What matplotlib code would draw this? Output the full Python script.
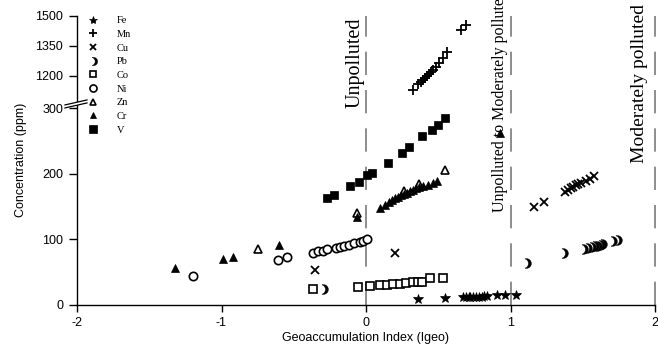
import numpy as np
import matplotlib
matplotlib.use("Agg")
import matplotlib.pyplot as plt
import matplotlib.path as mpath
import matplotlib.transforms as mtransforms
from matplotlib.patches import Polygon

# ---------------- data ----------------
Fe_x = [0.36, 0.55, 0.67, 0.69, 0.71, 0.72, 0.74, 0.76, 0.78, 0.80, 0.82, 0.84, 0.91, 0.96, 1.04]
Fe_y = [9, 10, 12, 12, 12, 12, 12, 12, 12, 12, 13, 13, 14, 14, 15]

Mn_x = [0.325, 0.36, 0.38, 0.395, 0.41, 0.42, 0.436, 0.45, 0.464, 0.484, 0.505, 0.53, 0.56, 0.66, 0.69]
Mn_y = [1130, 1160, 1170, 1180, 1190, 1200, 1210, 1220, 1230, 1245, 1265, 1290, 1320, 1430, 1455]

Cu_x = [-0.35, 0.20, 1.16, 1.23, 1.38, 1.40, 1.42, 1.43, 1.45, 1.47, 1.49, 1.52, 1.55, 1.58]
Cu_y = [52, 78, 149, 157, 172, 175, 178, 180, 183, 184, 186, 189, 192, 196]

Pb_x = [-0.30, 1.11, 1.36, 1.50, 1.53, 1.56, 1.58, 1.60, 1.62, 1.63, 1.70, 1.74]
Pb_y = [23, 64, 78, 85, 87, 88, 89, 90, 91, 92, 97, 99]

Co_x = [-0.37, -0.055, 0.03, 0.10, 0.145, 0.19, 0.235, 0.28, 0.325, 0.36, 0.39, 0.44, 0.53]
Co_y = [23, 27, 29, 30, 30, 32, 32, 33, 34, 34, 35, 40, 41]

Ni_x = [-1.20, -0.61, -0.55, -0.37, -0.33, -0.30, -0.27, -0.21, -0.18, -0.15, -0.12, -0.08, -0.04, -0.02, 0.01]
Ni_y = [44, 68, 72, 79, 81, 82, 84, 87, 88, 90, 91, 94, 96, 97, 100]

Zn_x = [-0.75, -0.06, 0.26, 0.37, 0.55]
Zn_y = [85, 139, 174, 184, 206]

Cr_x = [-1.32, -0.99, -0.92, -0.60, -0.06, 0.097, 0.131, 0.159, 0.18, 0.20, 0.22, 0.24, 0.26,
        0.285, 0.305, 0.325, 0.346, 0.367, 0.394, 0.43, 0.464, 0.49, 0.93]
Cr_y = [55, 70, 73, 91, 134, 147, 152, 156, 160, 163, 164, 167, 169,
        170, 173, 175, 178, 179, 181, 182, 185, 189, 262]

V_x = [-0.27, -0.22, -0.11, -0.05, 0.01, 0.04, 0.15, 0.25, 0.30, 0.39, 0.46, 0.50, 0.55]
V_y = [163, 167, 181, 187, 198, 201, 216, 231, 240, 257, 266, 274, 285]

x_ticks = [-2, -1, 0, 1, 2]
y_ticks = [0, 100, 200, 300, 1200, 1350, 1500]
zone_x = [0, 1, 2]
zone_labels = ["Unpolluted", "Unpolluted to Moderately polluted", "Moderately polluted"]

# ---------------- broken y scale ----------------
K = 0.3053
LOW_TOP, HIGH_BOT = 300.0, 1040.0
EPS = 1e-4
GAP = (HIGH_BOT - LOW_TOP) * EPS


def fwd(y):
    y = np.asarray(y, dtype=float)
    return np.where(y <= LOW_TOP, y,
                    np.where(y < HIGH_BOT, LOW_TOP + (y - LOW_TOP) * EPS,
                             LOW_TOP + GAP + (y - HIGH_BOT) * K))


def inv(f):
    f = np.asarray(f, dtype=float)
    return np.where(f <= LOW_TOP, f,
                    np.where(f < LOW_TOP + GAP, LOW_TOP + (f - LOW_TOP) / EPS,
                             HIGH_BOT + (f - LOW_TOP - GAP) / K))


# crescent marker for Pb
def crescent(shift=0.6, n=30):
    xi = -shift / 2.0
    angA = np.linspace(-np.arccos(xi), np.arccos(xi), n)
    outer = np.column_stack([np.cos(angA), np.sin(angA)])
    b = np.arccos(xi + shift)
    angB = np.linspace(b, -b, n)
    inner = np.column_stack([np.cos(angB) - shift, np.sin(angB)])
    verts = np.vstack([outer, inner, outer[:1]])
    codes = [mpath.Path.MOVETO] + [mpath.Path.LINETO] * (len(verts) - 2) + [mpath.Path.CLOSEPOLY]
    return mpath.Path(verts, codes)


PB_MARK = crescent()

fig = plt.figure(figsize=(6.58, 3.47), dpi=100)
ax = fig.add_axes([77 / 658, 42.5 / 347, 578 / 658, 288.5 / 347])
ax.set_yscale('function', functions=(fwd, inv))

black = 'black'
series = [
    ("Fe", Fe_x, Fe_y, dict(marker='*', ms=7, mfc=black, mec=black, mew=0.5)),
    ("Mn", Mn_x, Mn_y, dict(marker='+', ms=6.5, mec=black, mew=1.3)),
    ("Cu", Cu_x, Cu_y, dict(marker='x', ms=5.5, mec=black, mew=1.3)),
    ("Pb", Pb_x, Pb_y, dict(marker=PB_MARK, ms=7, mfc=black, mec=black, mew=0.3)),
    ("Co", Co_x, Co_y, dict(marker='s', ms=5.5, mfc='white', mec=black, mew=1.2)),
    ("Ni", Ni_x, Ni_y, dict(marker='o', ms=6, mfc='white', mec=black, mew=1.2)),
    ("Zn", Zn_x, Zn_y, dict(marker='^', ms=5.5, mfc='white', mec=black, mew=1.2)),
    ("Cr", Cr_x, Cr_y, dict(marker='^', ms=5.5, mfc=black, mec=black, mew=0.5)),
    ("V", V_x, V_y, dict(marker='s', ms=6, mfc=black, mec=black, mew=0.5)),
]
for name, xs, ys, kw in series:
    ax.plot(xs, ys, ls='none', label=name, zorder=3, **kw)

# zone boundary lines
for xv in zone_x:
    ax.axvline(xv, color='#7a7a7a', lw=1.2, dashes=(14, 9), zorder=1, clip_on=False)

blend = mtransforms.blended_transform_factory(ax.transData, ax.transAxes)
serif = ['Liberation Serif', 'DejaVu Serif']
ax.text(-0.01, 0.682, zone_labels[0], rotation=90, ha='right', va='bottom',
        transform=blend, fontsize=14.5, family=serif, clip_on=False)
ax.text(0.985, 0.322, zone_labels[1], rotation=90, ha='right', va='bottom',
        transform=blend, fontsize=11.5, family=serif, clip_on=False)
ax.text(1.95, 0.491, zone_labels[2], rotation=90, ha='right', va='bottom',
        transform=blend, fontsize=14, family=serif, clip_on=False)

ax.set_xlim(-2, 2)
ax.set_ylim(0, 1500)
ax.set_xticks(x_ticks)
ax.set_xticklabels([str(t) for t in x_ticks])
ax.set_yticks(y_ticks)
ax.set_yticklabels([str(t) for t in y_ticks])
ax.minorticks_off()

sans = 'Liberation Sans'
for lab in ax.get_xticklabels() + ax.get_yticklabels():
    lab.set_family(sans)
    lab.set_fontsize(9)
ax.tick_params(axis='x', direction='out', length=5, width=1, pad=4)
ax.tick_params(axis='y', direction='out', length=6, width=1, pad=4)
ax.spines['top'].set_visible(False)
ax.spines['right'].set_visible(False)
ax.spines['left'].set_linewidth(1)
ax.spines['bottom'].set_linewidth(1)

ax.set_xlabel("Geoaccumulation Index (Igeo)", family=sans, fontsize=9, labelpad=2)
ax.set_ylabel("Concentration (ppm)", family=sans, fontsize=9, labelpad=6)

# axis break marks
x0, x1 = -12 / 578, 10 / 578
yb = 0.69
dy = 5 / 288.5
off = 3 / 288.5
brk = Polygon([[x0, yb - dy / 2], [x1, yb + dy / 2], [x1, yb + dy / 2 + off], [x0, yb - dy / 2 + off]],
              closed=True, transform=ax.transAxes, facecolor='white', edgecolor='none',
              clip_on=False, zorder=5)
ax.add_patch(brk)
for o in (0, off):
    ax.plot([x0, x1], [yb - dy / 2 + o, yb + dy / 2 + o], color='black', lw=0.9,
            transform=ax.transAxes, clip_on=False, zorder=6)

leg = ax.legend(loc='upper left', bbox_to_anchor=(0.0097, 1.0), frameon=False,
                prop={'family': serif, 'size': 7.5}, borderpad=0, borderaxespad=0,
                handlelength=2.0, handletextpad=1.27, labelspacing=0.42, numpoints=1,
                markerscale=0.85)

fig.savefig("out.png", dpi=100)
